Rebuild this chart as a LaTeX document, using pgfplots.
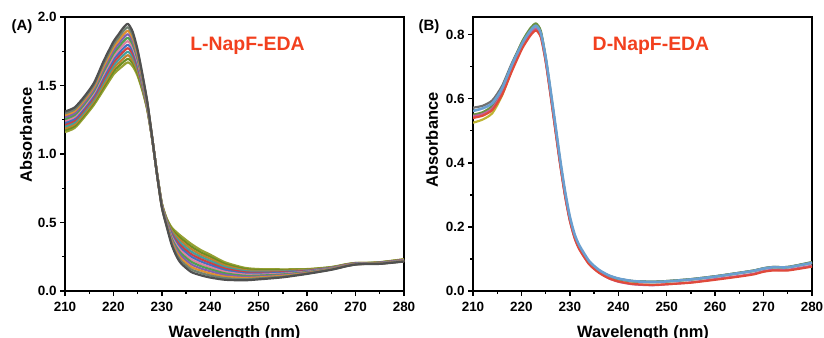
\documentclass[border=0pt]{standalone}
\usepackage{fontspec}
\setmainfont{Liberation Sans}
\usepackage{pgfplots}
\usepackage{pgfplotstable}
\pgfplotsset{compat=1.18}
\definecolor{ttl}{RGB}{242,64,30}
\definecolor{a0}{RGB}{150,160,50}
\definecolor{a1}{RGB}{107,142,35}
\definecolor{a2}{RGB}{192,128,48}
\definecolor{a3}{RGB}{64,160,160}
\definecolor{a4}{RGB}{208,64,64}
\definecolor{a5}{RGB}{64,112,192}
\definecolor{a6}{RGB}{224,128,160}
\definecolor{a7}{RGB}{80,160,80}
\definecolor{a8}{RGB}{128,96,176}
\definecolor{a9}{RGB}{224,144,48}
\definecolor{a10}{RGB}{112,128,112}
\definecolor{a11}{RGB}{80,80,80}
\definecolor{b1}{RGB}{190,180,50}
\definecolor{b2}{RGB}{112,112,112}
\definecolor{b3}{RGB}{106,144,64}
\definecolor{b4}{RGB}{224,74,58}
\definecolor{b5}{RGB}{192,96,160}
\definecolor{b6}{RGB}{106,159,208}

\pgfplotstableread{
wl c0 c1 c2 c3 c4 c5 c6 c7 c8 c9 c10 c11
210 1.160 1.174 1.187 1.201 1.215 1.228 1.242 1.255 1.269 1.283 1.296 1.310
212 1.190 1.204 1.217 1.231 1.245 1.258 1.272 1.285 1.299 1.313 1.326 1.340
214 1.270 1.284 1.297 1.311 1.325 1.338 1.352 1.365 1.379 1.393 1.406 1.420
216 1.360 1.375 1.389 1.404 1.418 1.433 1.447 1.462 1.476 1.491 1.505 1.520
218 1.470 1.489 1.508 1.527 1.546 1.565 1.585 1.604 1.623 1.642 1.661 1.680
220 1.580 1.602 1.624 1.645 1.667 1.689 1.711 1.733 1.755 1.776 1.798 1.820
221 1.615 1.638 1.661 1.685 1.708 1.731 1.754 1.777 1.800 1.824 1.847 1.870
222 1.645 1.670 1.695 1.720 1.745 1.770 1.795 1.820 1.845 1.870 1.895 1.920
223 1.670 1.695 1.721 1.746 1.772 1.797 1.823 1.848 1.874 1.899 1.925 1.950
224 1.640 1.663 1.685 1.708 1.731 1.754 1.776 1.799 1.822 1.845 1.867 1.890
225 1.570 1.587 1.605 1.622 1.639 1.656 1.674 1.691 1.708 1.725 1.743 1.760
226 1.460 1.471 1.482 1.493 1.504 1.515 1.525 1.536 1.547 1.558 1.569 1.580
227 1.320 1.325 1.331 1.336 1.342 1.347 1.353 1.358 1.364 1.369 1.375 1.380
228 1.110 1.111 1.112 1.113 1.114 1.115 1.115 1.116 1.117 1.118 1.119 1.120
229 0.860 0.859 0.858 0.857 0.856 0.855 0.855 0.854 0.853 0.852 0.851 0.850
230 0.640 0.637 0.635 0.632 0.629 0.626 0.624 0.621 0.618 0.615 0.613 0.610
231 0.530 0.525 0.519 0.514 0.508 0.503 0.497 0.492 0.486 0.481 0.475 0.470
232 0.465 0.454 0.442 0.431 0.420 0.408 0.397 0.385 0.374 0.363 0.351 0.340
233 0.430 0.414 0.398 0.382 0.366 0.350 0.335 0.319 0.303 0.287 0.271 0.255
234 0.400 0.382 0.364 0.345 0.327 0.309 0.291 0.273 0.255 0.236 0.218 0.200
236 0.345 0.326 0.308 0.289 0.270 0.252 0.233 0.215 0.196 0.177 0.159 0.140
238 0.300 0.283 0.266 0.250 0.233 0.216 0.199 0.182 0.165 0.149 0.132 0.115
240 0.265 0.250 0.235 0.219 0.204 0.189 0.174 0.159 0.144 0.128 0.113 0.098
243 0.210 0.198 0.187 0.175 0.163 0.152 0.140 0.129 0.117 0.105 0.094 0.082
247 0.170 0.162 0.153 0.145 0.137 0.128 0.120 0.111 0.103 0.095 0.086 0.078
250 0.160 0.153 0.146 0.140 0.133 0.126 0.119 0.112 0.105 0.099 0.092 0.085
255 0.158 0.153 0.147 0.142 0.137 0.132 0.126 0.121 0.116 0.111 0.105 0.100
260 0.160 0.157 0.154 0.150 0.147 0.144 0.141 0.138 0.135 0.131 0.128 0.125
265 0.175 0.173 0.171 0.170 0.168 0.166 0.164 0.162 0.160 0.159 0.157 0.155
268 0.195 0.194 0.192 0.191 0.190 0.188 0.187 0.185 0.184 0.183 0.181 0.180
270 0.205 0.204 0.203 0.202 0.201 0.200 0.198 0.197 0.196 0.195 0.194 0.193
272 0.205 0.204 0.204 0.203 0.202 0.201 0.201 0.200 0.199 0.198 0.198 0.197
275 0.210 0.209 0.208 0.207 0.206 0.205 0.203 0.202 0.201 0.200 0.199 0.198
280 0.232 0.230 0.229 0.227 0.226 0.224 0.223 0.221 0.220 0.218 0.217 0.215
}\tabA

\pgfplotstableread{
wl b1 b2 b3 b4 b5 b6
210 0.525 0.572 0.550 0.540 0.545 0.562
212 0.535 0.578 0.558 0.547 0.552 0.570
214 0.555 0.595 0.578 0.565 0.570 0.586
216 0.610 0.640 0.630 0.612 0.618 0.632
218 0.690 0.710 0.705 0.685 0.692 0.705
220 0.762 0.772 0.774 0.752 0.758 0.768
221 0.790 0.797 0.801 0.778 0.784 0.794
222 0.812 0.818 0.823 0.800 0.806 0.815
223 0.826 0.830 0.835 0.813 0.818 0.828
224 0.800 0.806 0.812 0.792 0.796 0.805
225 0.722 0.726 0.730 0.716 0.718 0.730
226 0.618 0.622 0.624 0.612 0.614 0.628
227 0.508 0.512 0.514 0.502 0.504 0.520
228 0.400 0.403 0.404 0.394 0.396 0.410
229 0.302 0.305 0.305 0.297 0.298 0.312
230 0.224 0.226 0.226 0.219 0.220 0.232
231 0.169 0.171 0.171 0.164 0.165 0.176
232 0.134 0.136 0.136 0.129 0.130 0.141
234 0.088 0.090 0.090 0.083 0.084 0.093
236 0.062 0.064 0.064 0.057 0.058 0.066
238 0.046 0.048 0.048 0.040 0.040 0.049
240 0.036 0.038 0.038 0.030 0.029 0.039
243 0.029 0.031 0.031 0.022 0.021 0.031
247 0.027 0.029 0.029 0.019 0.018 0.028
250 0.029 0.031 0.031 0.021 0.021 0.030
255 0.035 0.037 0.037 0.026 0.027 0.036
260 0.044 0.046 0.046 0.035 0.037 0.045
265 0.055 0.057 0.057 0.045 0.047 0.056
268 0.062 0.064 0.064 0.052 0.054 0.063
270 0.069 0.071 0.071 0.060 0.062 0.070
272 0.073 0.075 0.075 0.064 0.066 0.074
275 0.073 0.075 0.075 0.064 0.066 0.074
280 0.087 0.090 0.090 0.076 0.079 0.088
}\tabB

\pgfplotsset{myax/.style={
  scale only axis, width=339bp, height=274bp,
  anchor=south west,
  xmin=210, xmax=280, ymin=0,
  xtick={210,220,...,280},
  minor x tick num=1, minor y tick num=1,
  axis line style={line width=2.2pt},
  every tick/.style={black, line width=1.4pt},
  major tick length=5bp, minor tick length=3bp,
  tick align=outside, tick pos=left,
  /pgf/number format/assume math mode=true,
  ticklabel style={font=\fontsize{13.5}{15}\selectfont\bfseries},
  xticklabel style={yshift=-3bp},
  yticklabel style={/pgf/number format/fixed, /pgf/number format/fixed zerofill, /pgf/number format/precision=1},
  every axis plot/.append style={line width=2.2pt, line join=round, no markers, smooth, tension=0.4},
}}

\begin{document}
\begin{tikzpicture}[x=1bp,y=1bp]
\useasboundingbox (0bp,0bp) rectangle (824bp,338bp);
\begin{axis}[myax, at={(65bp,47bp)}, ymax=2.0, ytick={0,0.5,1.0,1.5,2.0}]
\addplot[a0] table[x=wl,y=c0]{\tabA};
\addplot[a1] table[x=wl,y=c1]{\tabA};
\addplot[a2] table[x=wl,y=c2]{\tabA};
\addplot[a3] table[x=wl,y=c3]{\tabA};
\addplot[a4] table[x=wl,y=c4]{\tabA};
\addplot[a5] table[x=wl,y=c5]{\tabA};
\addplot[a6] table[x=wl,y=c6]{\tabA};
\addplot[a7] table[x=wl,y=c7]{\tabA};
\addplot[a8] table[x=wl,y=c8]{\tabA};
\addplot[a9] table[x=wl,y=c9]{\tabA};
\addplot[a10] table[x=wl,y=c10]{\tabA};
\addplot[a11] table[x=wl,y=c11]{\tabA};
\end{axis}
\begin{axis}[myax, at={(473bp,47bp)}, ymax=0.855, ytick={0,0.2,0.4,0.6,0.8}]
\addplot[b1] table[x=wl,y=b1]{\tabB};
\addplot[b2] table[x=wl,y=b2]{\tabB};
\addplot[b3] table[x=wl,y=b3]{\tabB};
\addplot[b5] table[x=wl,y=b5]{\tabB};
\addplot[b4] table[x=wl,y=b4]{\tabB};
\addplot[b6, line width=2.6pt] table[x=wl,y=b6]{\tabB};
\end{axis}
\node[font=\fontsize{16.5}{18}\selectfont\bfseries, rotate=90] at (26bp,203bp) {Absorbance};
\node[font=\fontsize{16.5}{18}\selectfont\bfseries, rotate=90] at (432bp,198bp) {Absorbance};
\node[font=\fontsize{16.5}{18}\selectfont\bfseries, anchor=north, inner sep=0pt] at (234.5bp,13bp) {Wavelength (nm)};
\node[font=\fontsize{16.5}{18}\selectfont\bfseries, anchor=north, inner sep=0pt] at (643bp,13bp) {Wavelength (nm)};
\node[font=\fontsize{19.5}{21}\selectfont\bfseries, text=ttl] at (247.5bp,292.5bp) {L-NapF-EDA};
\node[font=\fontsize{19.5}{21}\selectfont\bfseries, text=ttl] at (651bp,292.5bp) {D-NapF-EDA};
\node[font=\fontsize{15}{17}\selectfont\bfseries] at (22bp,311bp) {(A)};
\node[font=\fontsize{15}{17}\selectfont\bfseries] at (429bp,311bp) {(B)};
\end{tikzpicture}
\end{document}
